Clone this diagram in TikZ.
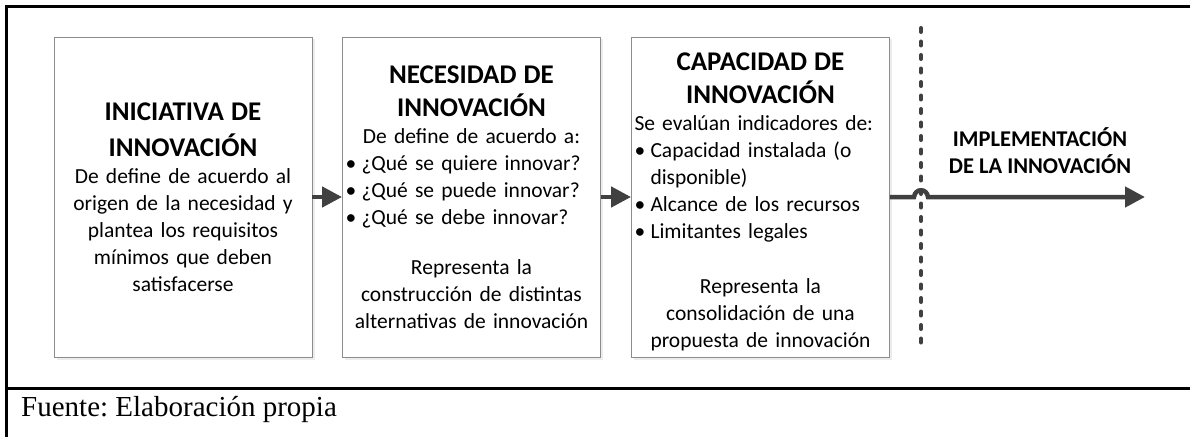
\documentclass[tikz,border=0pt]{standalone}
\usepackage{fontspec}
\setmainfont{Carlito}
\newfontfamily\fuentefont{Liberation Serif}
\usetikzlibrary{shadows,arrows.meta}
\definecolor{boxgray}{HTML}{8C8C8C}
\definecolor{arrgray}{HTML}{404040}
\newcommand{\ttl}{\fontsize{27}{33}\selectfont\bfseries}
\newcommand{\itm}[1]{\par\noindent\hangindent=16pt\hangafter=1\makebox[16pt][l]{•}#1\par}
\begin{document}
\begin{tikzpicture}[x=1pt,y=-1pt,
  box/.style={draw=boxgray, line width=0.9pt, fill=white,
    minimum width=258pt, minimum height=320pt, inner sep=2.5pt,
    text width=252pt,
    font=\fontsize{21.5}{27}\selectfont\setlength{\parindent}{0pt}\setlength{\parskip}{0pt},
    drop shadow={shadow xshift=2.5pt, shadow yshift=-2.5pt, fill=black!15}},
  flow/.style={draw=arrgray, line width=4.5pt, -{Triangle[length=20pt,width=20pt]}},
  frame/.style={line width=3pt, black}
]
\useasboundingbox (0,0) rectangle (1190,436);
% frame
\draw[frame] (6,437) -- (6,7) -- (1191,7);
\draw[frame] (5,388) -- (1191,388);
% boxes
\node[box] (b1) at (183,197) {\centering{\ttl INICIATIVA DE\\[3pt]INNOVACIÓN\par}
De define de acuerdo al\\origen de la necesidad y\\plantea los requisitos\\mínimos que deben\\satisfacerse\par\vspace{-4pt}};
\node[box] (b2) at (471.5,197) {\centering{\ttl NECESIDAD DE\\INNOVACIÓN\par}
De define de acuerdo a:\par
\raggedright
\itm{¿Qué se quiere innovar?}
\itm{¿Qué se puede innovar?}
\itm{¿Qué se debe innovar?}
\vspace{23pt}
\centering Representa la\\construcción de distintas\\alternativas de innovación\par};
\node[box] (b3) at (760.5,197) {\centering{\ttl\rule{0pt}{28pt}CAPACIDAD DE\\INNOVACIÓN\par}
\raggedright Se evalúan indicadores de:\par
\itm{Capacidad instalada (o disponible)}
\itm{Alcance de los recursos}
\itm{Limitantes legales}
\vspace{28pt}
\centering Representa la\\consolidación de una\\propuesta de innovación\par};
% dotted divider
\coordinate (dtop) at (921,28);
\coordinate (dbot) at (921,350);
\draw[arrgray, line width=4pt, line cap=round, dash pattern=on 4pt off 9.5pt] (dtop) -- (dbot);
% implementation label
\node[font=\fontsize{22.5}{27}\selectfont\bfseries, align=center] (impl) at (1040,151) {IMPLEMENTACIÓN\\DE LA INNOVACIÓN};
% arrows
\draw[flow] (b1.east) -- (b2.west);
\draw[flow] (b2.east) -- (b3.west);
\coordinate (hopa) at (914,197);
\coordinate (hopb) at (928,197);
\coordinate (tip) at (1145,197);
\draw[flow] (b3.east |- hopa) -- (hopa) .. controls (915,188) and (927,188) .. (hopb) -- (tip);
% source
\node[anchor=west, font=\fuentefont\fontsize{29}{34}\selectfont\frenchspacing, inner sep=0pt] (src) at (21,409) {Fuente: Elaboración propia};
\end{tikzpicture}
\end{document}
